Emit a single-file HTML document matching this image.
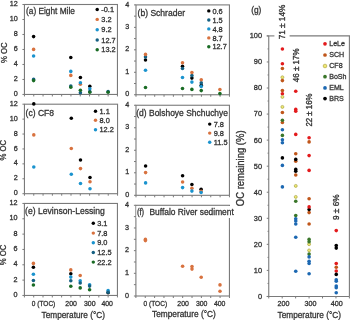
<!DOCTYPE html>
<html><head><meta charset="utf-8"><style>
html,body{margin:0;padding:0;background:#fff;width:350px;height:320px;overflow:hidden}
svg{display:block;font-family:"Liberation Sans",sans-serif;will-change:transform}
</style></head><body>
<svg width="350" height="320" viewBox="0 0 350 320">
<rect width="350" height="320" fill="#fff"/>
<rect x="24.45" y="4.5" width="93.00" height="89.95" fill="none" stroke="#7a7a7a" stroke-width="1.1"/>
<line x1="22.45" y1="94.45" x2="24.45" y2="94.45" stroke="#7a7a7a" stroke-width="1"/>
<line x1="22.45" y1="79.45833333333334" x2="24.45" y2="79.45833333333334" stroke="#7a7a7a" stroke-width="1"/>
<line x1="22.45" y1="64.46666666666667" x2="24.45" y2="64.46666666666667" stroke="#7a7a7a" stroke-width="1"/>
<line x1="22.45" y1="49.475" x2="24.45" y2="49.475" stroke="#7a7a7a" stroke-width="1"/>
<line x1="22.45" y1="34.483333333333334" x2="24.45" y2="34.483333333333334" stroke="#7a7a7a" stroke-width="1"/>
<line x1="22.45" y1="19.491666666666674" x2="24.45" y2="19.491666666666674" stroke="#7a7a7a" stroke-width="1"/>
<line x1="22.45" y1="4.5" x2="24.45" y2="4.5" stroke="#7a7a7a" stroke-width="1"/>
<text x="17.65" y="96.05" font-size="7.2" text-anchor="end" fill="#333333" stroke="#333333" stroke-width="0.3">0</text>
<text x="17.65" y="81.05833333333334" font-size="7.2" text-anchor="end" fill="#333333" stroke="#333333" stroke-width="0.3">2</text>
<text x="17.65" y="66.06666666666666" font-size="7.2" text-anchor="end" fill="#333333" stroke="#333333" stroke-width="0.3">4</text>
<text x="17.65" y="51.075" font-size="7.2" text-anchor="end" fill="#333333" stroke="#333333" stroke-width="0.3">6</text>
<text x="17.65" y="36.083333333333336" font-size="7.2" text-anchor="end" fill="#333333" stroke="#333333" stroke-width="0.3">8</text>
<text x="17.65" y="21.091666666666676" font-size="7.2" text-anchor="end" fill="#333333" stroke="#333333" stroke-width="0.3">10</text>
<text x="17.65" y="6.1" font-size="7.2" text-anchor="end" fill="#333333" stroke="#333333" stroke-width="0.3">12</text>
<line x1="24.45" y1="94.45" x2="24.45" y2="96.45" stroke="#7a7a7a" stroke-width="1"/>
<line x1="33.75" y1="94.45" x2="33.75" y2="96.45" stroke="#7a7a7a" stroke-width="1"/>
<line x1="43.05" y1="94.45" x2="43.05" y2="96.45" stroke="#7a7a7a" stroke-width="1"/>
<line x1="52.349999999999994" y1="94.45" x2="52.349999999999994" y2="96.45" stroke="#7a7a7a" stroke-width="1"/>
<line x1="61.650000000000006" y1="94.45" x2="61.650000000000006" y2="96.45" stroke="#7a7a7a" stroke-width="1"/>
<line x1="70.95" y1="94.45" x2="70.95" y2="96.45" stroke="#7a7a7a" stroke-width="1"/>
<line x1="80.25" y1="94.45" x2="80.25" y2="96.45" stroke="#7a7a7a" stroke-width="1"/>
<line x1="89.55" y1="94.45" x2="89.55" y2="96.45" stroke="#7a7a7a" stroke-width="1"/>
<line x1="98.85000000000001" y1="94.45" x2="98.85000000000001" y2="96.45" stroke="#7a7a7a" stroke-width="1"/>
<line x1="108.15" y1="94.45" x2="108.15" y2="96.45" stroke="#7a7a7a" stroke-width="1"/>
<line x1="117.45" y1="94.45" x2="117.45" y2="96.45" stroke="#7a7a7a" stroke-width="1"/>
<text x="26.0" y="13.7" font-size="8.4" text-anchor="start" fill="#333333" stroke="#333333" stroke-width="0.28" textLength="48.9" lengthAdjust="spacingAndGlyphs">(a) Eight Mile</text>
<circle cx="97.2" cy="9.45" r="1.72" fill="#000000"/>
<text x="101.3" y="12.049999999999999" font-size="7.4" text-anchor="start" fill="#333333" stroke="#333333" stroke-width="0.3">-0.1</text>
<circle cx="97.2" cy="19.4" r="1.72" fill="#D8723F"/>
<text x="101.3" y="22.0" font-size="7.4" text-anchor="start" fill="#333333" stroke="#333333" stroke-width="0.3">3.2</text>
<circle cx="97.2" cy="29.7" r="1.72" fill="#1A93CE"/>
<text x="101.3" y="32.3" font-size="7.4" text-anchor="start" fill="#333333" stroke="#333333" stroke-width="0.3">9.2</text>
<circle cx="97.2" cy="40" r="1.72" fill="#156082"/>
<text x="101.3" y="42.6" font-size="7.4" text-anchor="start" fill="#333333" stroke="#333333" stroke-width="0.3">12.7</text>
<circle cx="97.2" cy="49.8" r="1.72" fill="#196B24"/>
<text x="101.3" y="52.4" font-size="7.4" text-anchor="start" fill="#333333" stroke="#333333" stroke-width="0.3">13.2</text>
<circle cx="33.6" cy="36.6" r="1.78" fill="#000000"/>
<circle cx="33.6" cy="49.4" r="1.78" fill="#D8723F"/>
<circle cx="33.6" cy="56.0" r="1.78" fill="#1A93CE"/>
<circle cx="33.6" cy="79.4" r="1.78" fill="#156082"/>
<circle cx="33.6" cy="80.6" r="1.78" fill="#196B24"/>
<circle cx="70.8" cy="57.5" r="1.78" fill="#000000"/>
<circle cx="70.8" cy="71.4" r="1.78" fill="#1A93CE"/>
<circle cx="70.8" cy="75.4" r="1.78" fill="#D8723F"/>
<circle cx="70.8" cy="86.1" r="1.78" fill="#156082"/>
<circle cx="70.8" cy="87.2" r="1.78" fill="#196B24"/>
<circle cx="80.4" cy="77.5" r="1.78" fill="#000000"/>
<circle cx="80.4" cy="84.3" r="1.78" fill="#D8723F"/>
<circle cx="80.4" cy="82.7" r="1.78" fill="#1A93CE"/>
<circle cx="80.4" cy="92.7" r="1.78" fill="#156082"/>
<circle cx="80.4" cy="90.2" r="1.78" fill="#196B24"/>
<circle cx="89.8" cy="86.2" r="1.78" fill="#000000"/>
<circle cx="89.8" cy="88.7" r="1.78" fill="#1A93CE"/>
<circle cx="89.8" cy="91.5" r="1.78" fill="#156082"/>
<circle cx="89.8" cy="92.25" r="1.78" fill="#196B24"/>
<circle cx="108.1" cy="91.5" r="1.78" fill="#156082"/>
<circle cx="108.1" cy="92.25" r="1.78" fill="#196B24"/>
<rect x="136.0" y="4.9" width="93.44" height="89.85" fill="none" stroke="#7a7a7a" stroke-width="1.1"/>
<line x1="134.0" y1="94.75" x2="136.0" y2="94.75" stroke="#7a7a7a" stroke-width="1"/>
<line x1="134.0" y1="83.51875" x2="136.0" y2="83.51875" stroke="#7a7a7a" stroke-width="1"/>
<line x1="134.0" y1="72.2875" x2="136.0" y2="72.2875" stroke="#7a7a7a" stroke-width="1"/>
<line x1="134.0" y1="61.056250000000006" x2="136.0" y2="61.056250000000006" stroke="#7a7a7a" stroke-width="1"/>
<line x1="134.0" y1="49.825" x2="136.0" y2="49.825" stroke="#7a7a7a" stroke-width="1"/>
<line x1="134.0" y1="38.59375" x2="136.0" y2="38.59375" stroke="#7a7a7a" stroke-width="1"/>
<line x1="134.0" y1="27.36250000000001" x2="136.0" y2="27.36250000000001" stroke="#7a7a7a" stroke-width="1"/>
<line x1="134.0" y1="16.13125000000001" x2="136.0" y2="16.13125000000001" stroke="#7a7a7a" stroke-width="1"/>
<line x1="134.0" y1="4.900000000000006" x2="136.0" y2="4.900000000000006" stroke="#7a7a7a" stroke-width="1"/>
<text x="129.2" y="96.35" font-size="7.2" text-anchor="end" fill="#333333" stroke="#333333" stroke-width="0.3">0</text>
<text x="129.2" y="73.88749999999999" font-size="7.2" text-anchor="end" fill="#333333" stroke="#333333" stroke-width="0.3">1</text>
<text x="129.2" y="51.425000000000004" font-size="7.2" text-anchor="end" fill="#333333" stroke="#333333" stroke-width="0.3">2</text>
<text x="129.2" y="28.962500000000013" font-size="7.2" text-anchor="end" fill="#333333" stroke="#333333" stroke-width="0.3">3</text>
<text x="129.2" y="6.500000000000005" font-size="7.2" text-anchor="end" fill="#333333" stroke="#333333" stroke-width="0.3">4</text>
<line x1="136.0" y1="94.75" x2="136.0" y2="96.75" stroke="#7a7a7a" stroke-width="1"/>
<line x1="145.344" y1="94.75" x2="145.344" y2="96.75" stroke="#7a7a7a" stroke-width="1"/>
<line x1="154.688" y1="94.75" x2="154.688" y2="96.75" stroke="#7a7a7a" stroke-width="1"/>
<line x1="164.032" y1="94.75" x2="164.032" y2="96.75" stroke="#7a7a7a" stroke-width="1"/>
<line x1="173.376" y1="94.75" x2="173.376" y2="96.75" stroke="#7a7a7a" stroke-width="1"/>
<line x1="182.72" y1="94.75" x2="182.72" y2="96.75" stroke="#7a7a7a" stroke-width="1"/>
<line x1="192.064" y1="94.75" x2="192.064" y2="96.75" stroke="#7a7a7a" stroke-width="1"/>
<line x1="201.408" y1="94.75" x2="201.408" y2="96.75" stroke="#7a7a7a" stroke-width="1"/>
<line x1="210.752" y1="94.75" x2="210.752" y2="96.75" stroke="#7a7a7a" stroke-width="1"/>
<line x1="220.096" y1="94.75" x2="220.096" y2="96.75" stroke="#7a7a7a" stroke-width="1"/>
<line x1="229.44" y1="94.75" x2="229.44" y2="96.75" stroke="#7a7a7a" stroke-width="1"/>
<text x="137.6" y="15.8" font-size="8.4" text-anchor="start" fill="#333333" stroke="#333333" stroke-width="0.28" textLength="47.4" lengthAdjust="spacingAndGlyphs">(b) Schrader</text>
<circle cx="208.8" cy="10.9" r="1.72" fill="#000000"/>
<text x="212.4" y="13.5" font-size="7.4" text-anchor="start" fill="#333333" stroke="#333333" stroke-width="0.3">0.6</text>
<circle cx="208.8" cy="20.0" r="1.72" fill="#156082"/>
<text x="212.4" y="22.6" font-size="7.4" text-anchor="start" fill="#333333" stroke="#333333" stroke-width="0.3">1.5</text>
<circle cx="208.8" cy="28.9" r="1.72" fill="#1A93CE"/>
<text x="212.4" y="31.5" font-size="7.4" text-anchor="start" fill="#333333" stroke="#333333" stroke-width="0.3">4.8</text>
<circle cx="208.8" cy="37.9" r="1.72" fill="#D8723F"/>
<text x="212.4" y="40.5" font-size="7.4" text-anchor="start" fill="#333333" stroke="#333333" stroke-width="0.3">8.7</text>
<circle cx="208.8" cy="46.8" r="1.72" fill="#196B24"/>
<text x="212.4" y="49.4" font-size="7.4" text-anchor="start" fill="#333333" stroke="#333333" stroke-width="0.3">12.7</text>
<circle cx="145.5" cy="60.0" r="1.78" fill="#000000"/>
<circle cx="145.5" cy="56.9" r="1.78" fill="#156082"/>
<circle cx="145.5" cy="70.3" r="1.78" fill="#1A93CE"/>
<circle cx="145.5" cy="54.4" r="1.78" fill="#D8723F"/>
<circle cx="145.5" cy="87.5" r="1.78" fill="#196B24"/>
<circle cx="182.5" cy="66.25" r="1.78" fill="#000000"/>
<circle cx="182.5" cy="68.5" r="1.78" fill="#156082"/>
<circle cx="182.5" cy="77.5" r="1.78" fill="#1A93CE"/>
<circle cx="182.5" cy="62.75" r="1.78" fill="#D8723F"/>
<circle cx="182.5" cy="88.5" r="1.78" fill="#196B24"/>
<circle cx="191.9" cy="78.1" r="1.78" fill="#000000"/>
<circle cx="191.9" cy="75.6" r="1.78" fill="#156082"/>
<circle cx="191.9" cy="82.1" r="1.78" fill="#1A93CE"/>
<circle cx="191.9" cy="72.5" r="1.78" fill="#D8723F"/>
<circle cx="191.9" cy="89.4" r="1.78" fill="#196B24"/>
<circle cx="201.25" cy="85.2" r="1.78" fill="#000000"/>
<circle cx="201.25" cy="82.9" r="1.78" fill="#156082"/>
<circle cx="201.25" cy="86.5" r="1.78" fill="#1A93CE"/>
<circle cx="201.25" cy="79.8" r="1.78" fill="#D8723F"/>
<circle cx="201.25" cy="90.6" r="1.78" fill="#196B24"/>
<circle cx="219.9" cy="89.5" r="1.78" fill="#D8723F"/>
<circle cx="219.9" cy="93.6" r="1.78" fill="#196B24"/>
<rect x="24.45" y="104.2" width="93.10" height="89.50" fill="none" stroke="#7a7a7a" stroke-width="1.1"/>
<line x1="22.45" y1="193.7" x2="24.45" y2="193.7" stroke="#7a7a7a" stroke-width="1"/>
<line x1="22.45" y1="178.78333333333333" x2="24.45" y2="178.78333333333333" stroke="#7a7a7a" stroke-width="1"/>
<line x1="22.45" y1="163.86666666666667" x2="24.45" y2="163.86666666666667" stroke="#7a7a7a" stroke-width="1"/>
<line x1="22.45" y1="148.95" x2="24.45" y2="148.95" stroke="#7a7a7a" stroke-width="1"/>
<line x1="22.45" y1="134.03333333333333" x2="24.45" y2="134.03333333333333" stroke="#7a7a7a" stroke-width="1"/>
<line x1="22.45" y1="119.11666666666666" x2="24.45" y2="119.11666666666666" stroke="#7a7a7a" stroke-width="1"/>
<line x1="22.45" y1="104.2" x2="24.45" y2="104.2" stroke="#7a7a7a" stroke-width="1"/>
<text x="17.65" y="195.29999999999998" font-size="7.2" text-anchor="end" fill="#333333" stroke="#333333" stroke-width="0.3">0</text>
<text x="17.65" y="180.38333333333333" font-size="7.2" text-anchor="end" fill="#333333" stroke="#333333" stroke-width="0.3">2</text>
<text x="17.65" y="165.46666666666667" font-size="7.2" text-anchor="end" fill="#333333" stroke="#333333" stroke-width="0.3">4</text>
<text x="17.65" y="150.54999999999998" font-size="7.2" text-anchor="end" fill="#333333" stroke="#333333" stroke-width="0.3">6</text>
<text x="17.65" y="135.63333333333333" font-size="7.2" text-anchor="end" fill="#333333" stroke="#333333" stroke-width="0.3">8</text>
<text x="17.65" y="120.71666666666665" font-size="7.2" text-anchor="end" fill="#333333" stroke="#333333" stroke-width="0.3">10</text>
<text x="17.65" y="105.8" font-size="7.2" text-anchor="end" fill="#333333" stroke="#333333" stroke-width="0.3">12</text>
<line x1="24.45" y1="193.7" x2="24.45" y2="195.7" stroke="#7a7a7a" stroke-width="1"/>
<line x1="33.76" y1="193.7" x2="33.76" y2="195.7" stroke="#7a7a7a" stroke-width="1"/>
<line x1="43.06999999999999" y1="193.7" x2="43.06999999999999" y2="195.7" stroke="#7a7a7a" stroke-width="1"/>
<line x1="52.379999999999995" y1="193.7" x2="52.379999999999995" y2="195.7" stroke="#7a7a7a" stroke-width="1"/>
<line x1="61.69" y1="193.7" x2="61.69" y2="195.7" stroke="#7a7a7a" stroke-width="1"/>
<line x1="71.0" y1="193.7" x2="71.0" y2="195.7" stroke="#7a7a7a" stroke-width="1"/>
<line x1="80.30999999999999" y1="193.7" x2="80.30999999999999" y2="195.7" stroke="#7a7a7a" stroke-width="1"/>
<line x1="89.61999999999999" y1="193.7" x2="89.61999999999999" y2="195.7" stroke="#7a7a7a" stroke-width="1"/>
<line x1="98.92999999999999" y1="193.7" x2="98.92999999999999" y2="195.7" stroke="#7a7a7a" stroke-width="1"/>
<line x1="108.24" y1="193.7" x2="108.24" y2="195.7" stroke="#7a7a7a" stroke-width="1"/>
<line x1="117.55" y1="193.7" x2="117.55" y2="195.7" stroke="#7a7a7a" stroke-width="1"/>
<text x="25.6" y="116.0" font-size="8.4" text-anchor="start" fill="#333333" stroke="#333333" stroke-width="0.28" textLength="28.4" lengthAdjust="spacingAndGlyphs">(c) CF8</text>
<circle cx="95.5" cy="111.2" r="1.72" fill="#000000"/>
<text x="99.5" y="113.8" font-size="7.4" text-anchor="start" fill="#333333" stroke="#333333" stroke-width="0.3">1.1</text>
<circle cx="95.5" cy="120.2" r="1.72" fill="#D8723F"/>
<text x="99.5" y="122.8" font-size="7.4" text-anchor="start" fill="#333333" stroke="#333333" stroke-width="0.3">8.0</text>
<circle cx="95.5" cy="129.8" r="1.72" fill="#1A93CE"/>
<text x="99.5" y="132.4" font-size="7.4" text-anchor="start" fill="#333333" stroke="#333333" stroke-width="0.3">12.2</text>
<circle cx="33.8" cy="103.9" r="1.78" fill="#000000"/>
<circle cx="33.8" cy="134.9" r="1.78" fill="#D8723F"/>
<circle cx="33.8" cy="167.0" r="1.78" fill="#1A93CE"/>
<circle cx="71.3" cy="118.3" r="1.78" fill="#000000"/>
<circle cx="71.3" cy="148.5" r="1.78" fill="#D8723F"/>
<circle cx="71.3" cy="174.2" r="1.78" fill="#1A93CE"/>
<circle cx="80.5" cy="160.0" r="1.78" fill="#000000"/>
<circle cx="80.5" cy="168.6" r="1.78" fill="#D8723F"/>
<circle cx="80.5" cy="183.5" r="1.78" fill="#1A93CE"/>
<circle cx="90.0" cy="177.5" r="1.78" fill="#000000"/>
<circle cx="90.0" cy="181.8" r="1.78" fill="#D8723F"/>
<circle cx="90.0" cy="188.7" r="1.78" fill="#1A93CE"/>
<rect x="136.0" y="105.25" width="93.44" height="90.05" fill="none" stroke="#7a7a7a" stroke-width="1.1"/>
<line x1="134.0" y1="195.3" x2="136.0" y2="195.3" stroke="#7a7a7a" stroke-width="1"/>
<line x1="134.0" y1="184.04375000000002" x2="136.0" y2="184.04375000000002" stroke="#7a7a7a" stroke-width="1"/>
<line x1="134.0" y1="172.78750000000002" x2="136.0" y2="172.78750000000002" stroke="#7a7a7a" stroke-width="1"/>
<line x1="134.0" y1="161.53125" x2="136.0" y2="161.53125" stroke="#7a7a7a" stroke-width="1"/>
<line x1="134.0" y1="150.275" x2="136.0" y2="150.275" stroke="#7a7a7a" stroke-width="1"/>
<line x1="134.0" y1="139.01875" x2="136.0" y2="139.01875" stroke="#7a7a7a" stroke-width="1"/>
<line x1="134.0" y1="127.7625" x2="136.0" y2="127.7625" stroke="#7a7a7a" stroke-width="1"/>
<line x1="134.0" y1="116.50625" x2="136.0" y2="116.50625" stroke="#7a7a7a" stroke-width="1"/>
<line x1="134.0" y1="105.25" x2="136.0" y2="105.25" stroke="#7a7a7a" stroke-width="1"/>
<text x="129.2" y="196.9" font-size="7.2" text-anchor="end" fill="#333333" stroke="#333333" stroke-width="0.3">0</text>
<text x="129.2" y="174.38750000000002" font-size="7.2" text-anchor="end" fill="#333333" stroke="#333333" stroke-width="0.3">1</text>
<text x="129.2" y="151.875" font-size="7.2" text-anchor="end" fill="#333333" stroke="#333333" stroke-width="0.3">2</text>
<text x="129.2" y="129.3625" font-size="7.2" text-anchor="end" fill="#333333" stroke="#333333" stroke-width="0.3">3</text>
<text x="129.2" y="106.85" font-size="7.2" text-anchor="end" fill="#333333" stroke="#333333" stroke-width="0.3">4</text>
<line x1="136.0" y1="195.3" x2="136.0" y2="197.3" stroke="#7a7a7a" stroke-width="1"/>
<line x1="145.344" y1="195.3" x2="145.344" y2="197.3" stroke="#7a7a7a" stroke-width="1"/>
<line x1="154.688" y1="195.3" x2="154.688" y2="197.3" stroke="#7a7a7a" stroke-width="1"/>
<line x1="164.032" y1="195.3" x2="164.032" y2="197.3" stroke="#7a7a7a" stroke-width="1"/>
<line x1="173.376" y1="195.3" x2="173.376" y2="197.3" stroke="#7a7a7a" stroke-width="1"/>
<line x1="182.72" y1="195.3" x2="182.72" y2="197.3" stroke="#7a7a7a" stroke-width="1"/>
<line x1="192.064" y1="195.3" x2="192.064" y2="197.3" stroke="#7a7a7a" stroke-width="1"/>
<line x1="201.408" y1="195.3" x2="201.408" y2="197.3" stroke="#7a7a7a" stroke-width="1"/>
<line x1="210.752" y1="195.3" x2="210.752" y2="197.3" stroke="#7a7a7a" stroke-width="1"/>
<line x1="220.096" y1="195.3" x2="220.096" y2="197.3" stroke="#7a7a7a" stroke-width="1"/>
<line x1="229.44" y1="195.3" x2="229.44" y2="197.3" stroke="#7a7a7a" stroke-width="1"/>
<text x="136.3" y="115.9" font-size="8.4" text-anchor="start" fill="#333333" stroke="#333333" stroke-width="0.28" textLength="91.7" lengthAdjust="spacingAndGlyphs">(d) Bolshoye Shchuchye</text>
<circle cx="209.7" cy="124.1" r="1.72" fill="#000000"/>
<text x="213.7" y="126.69999999999999" font-size="7.4" text-anchor="start" fill="#333333" stroke="#333333" stroke-width="0.3">7.8</text>
<circle cx="209.7" cy="133.1" r="1.72" fill="#D8723F"/>
<text x="213.7" y="135.7" font-size="7.4" text-anchor="start" fill="#333333" stroke="#333333" stroke-width="0.3">9.8</text>
<circle cx="209.7" cy="142.2" r="1.72" fill="#1A93CE"/>
<text x="213.7" y="144.79999999999998" font-size="7.4" text-anchor="start" fill="#333333" stroke="#333333" stroke-width="0.3">11.5</text>
<circle cx="145.6" cy="166.0" r="1.78" fill="#000000"/>
<circle cx="145.6" cy="172.6" r="1.78" fill="#D8723F"/>
<circle cx="145.6" cy="182.9" r="1.78" fill="#1A93CE"/>
<circle cx="182.6" cy="175.8" r="1.78" fill="#000000"/>
<circle cx="182.6" cy="182.0" r="1.78" fill="#D8723F"/>
<circle cx="182.6" cy="187.6" r="1.78" fill="#1A93CE"/>
<circle cx="191.9" cy="184.5" r="1.78" fill="#000000"/>
<circle cx="191.9" cy="188.3" r="1.78" fill="#D8723F"/>
<circle cx="191.9" cy="191.1" r="1.78" fill="#1A93CE"/>
<circle cx="201.1" cy="189.2" r="1.78" fill="#000000"/>
<circle cx="201.1" cy="191.4" r="1.78" fill="#D8723F"/>
<circle cx="201.1" cy="192.5" r="1.78" fill="#1A93CE"/>
<rect x="24.4" y="203.45" width="93.04" height="92.00" fill="none" stroke="#7a7a7a" stroke-width="1.1"/>
<line x1="22.4" y1="295.45" x2="24.4" y2="295.45" stroke="#7a7a7a" stroke-width="1"/>
<line x1="22.4" y1="280.1166666666667" x2="24.4" y2="280.1166666666667" stroke="#7a7a7a" stroke-width="1"/>
<line x1="22.4" y1="264.7833333333333" x2="24.4" y2="264.7833333333333" stroke="#7a7a7a" stroke-width="1"/>
<line x1="22.4" y1="249.45" x2="24.4" y2="249.45" stroke="#7a7a7a" stroke-width="1"/>
<line x1="22.4" y1="234.11666666666665" x2="24.4" y2="234.11666666666665" stroke="#7a7a7a" stroke-width="1"/>
<line x1="22.4" y1="218.7833333333333" x2="24.4" y2="218.7833333333333" stroke="#7a7a7a" stroke-width="1"/>
<line x1="22.4" y1="203.45" x2="24.4" y2="203.45" stroke="#7a7a7a" stroke-width="1"/>
<text x="17.599999999999998" y="297.05" font-size="7.2" text-anchor="end" fill="#333333" stroke="#333333" stroke-width="0.3">0</text>
<text x="17.599999999999998" y="281.7166666666667" font-size="7.2" text-anchor="end" fill="#333333" stroke="#333333" stroke-width="0.3">2</text>
<text x="17.599999999999998" y="266.3833333333333" font-size="7.2" text-anchor="end" fill="#333333" stroke="#333333" stroke-width="0.3">4</text>
<text x="17.599999999999998" y="251.04999999999998" font-size="7.2" text-anchor="end" fill="#333333" stroke="#333333" stroke-width="0.3">6</text>
<text x="17.599999999999998" y="235.71666666666664" font-size="7.2" text-anchor="end" fill="#333333" stroke="#333333" stroke-width="0.3">8</text>
<text x="17.599999999999998" y="220.3833333333333" font-size="7.2" text-anchor="end" fill="#333333" stroke="#333333" stroke-width="0.3">10</text>
<text x="17.599999999999998" y="205.04999999999998" font-size="7.2" text-anchor="end" fill="#333333" stroke="#333333" stroke-width="0.3">12</text>
<line x1="24.4" y1="295.45" x2="24.4" y2="297.45" stroke="#7a7a7a" stroke-width="1"/>
<line x1="33.70399999999999" y1="295.45" x2="33.70399999999999" y2="297.45" stroke="#7a7a7a" stroke-width="1"/>
<line x1="43.007999999999996" y1="295.45" x2="43.007999999999996" y2="297.45" stroke="#7a7a7a" stroke-width="1"/>
<line x1="52.312" y1="295.45" x2="52.312" y2="297.45" stroke="#7a7a7a" stroke-width="1"/>
<line x1="61.61599999999999" y1="295.45" x2="61.61599999999999" y2="297.45" stroke="#7a7a7a" stroke-width="1"/>
<line x1="70.91999999999999" y1="295.45" x2="70.91999999999999" y2="297.45" stroke="#7a7a7a" stroke-width="1"/>
<line x1="80.22399999999999" y1="295.45" x2="80.22399999999999" y2="297.45" stroke="#7a7a7a" stroke-width="1"/>
<line x1="89.52799999999999" y1="295.45" x2="89.52799999999999" y2="297.45" stroke="#7a7a7a" stroke-width="1"/>
<line x1="98.832" y1="295.45" x2="98.832" y2="297.45" stroke="#7a7a7a" stroke-width="1"/>
<line x1="108.136" y1="295.45" x2="108.136" y2="297.45" stroke="#7a7a7a" stroke-width="1"/>
<line x1="117.44" y1="295.45" x2="117.44" y2="297.45" stroke="#7a7a7a" stroke-width="1"/>
<text x="25.1" y="213.9" font-size="8.4" text-anchor="start" fill="#333333" stroke="#333333" stroke-width="0.28" textLength="79.7" lengthAdjust="spacingAndGlyphs">(e) Levinson-Lessing</text>
<circle cx="93.3" cy="223.3" r="1.72" fill="#000000"/>
<text x="97.2" y="225.9" font-size="7.4" text-anchor="start" fill="#333333" stroke="#333333" stroke-width="0.3">3.1</text>
<circle cx="93.3" cy="233.1" r="1.72" fill="#D8723F"/>
<text x="97.2" y="235.7" font-size="7.4" text-anchor="start" fill="#333333" stroke="#333333" stroke-width="0.3">7.8</text>
<circle cx="93.3" cy="242.7" r="1.72" fill="#1A93CE"/>
<text x="97.2" y="245.29999999999998" font-size="7.4" text-anchor="start" fill="#333333" stroke="#333333" stroke-width="0.3">9.0</text>
<circle cx="93.3" cy="252.5" r="1.72" fill="#156082"/>
<text x="97.2" y="255.1" font-size="7.4" text-anchor="start" fill="#333333" stroke="#333333" stroke-width="0.3">12.5</text>
<circle cx="93.3" cy="262.1" r="1.72" fill="#196B24"/>
<text x="97.2" y="264.70000000000005" font-size="7.4" text-anchor="start" fill="#333333" stroke="#333333" stroke-width="0.3">22.2</text>
<circle cx="33.4" cy="263.4" r="1.78" fill="#D8723F"/>
<circle cx="33.4" cy="267.25" r="1.78" fill="#000000"/>
<circle cx="33.4" cy="274.2" r="1.78" fill="#1A93CE"/>
<circle cx="33.4" cy="280.5" r="1.78" fill="#156082"/>
<circle cx="33.4" cy="285.0" r="1.78" fill="#196B24"/>
<circle cx="70.8" cy="269.9" r="1.78" fill="#D8723F"/>
<circle cx="70.8" cy="273.7" r="1.78" fill="#000000"/>
<circle cx="70.8" cy="277.1" r="1.78" fill="#1A93CE"/>
<circle cx="70.8" cy="280.8" r="1.78" fill="#156082"/>
<circle cx="70.8" cy="286.2" r="1.78" fill="#196B24"/>
<circle cx="80.2" cy="275.5" r="1.78" fill="#D8723F"/>
<circle cx="80.2" cy="280.8" r="1.78" fill="#1A93CE"/>
<circle cx="80.2" cy="283.0" r="1.78" fill="#156082"/>
<circle cx="80.2" cy="287.9" r="1.78" fill="#196B24"/>
<circle cx="89.6" cy="284.7" r="1.78" fill="#1A93CE"/>
<circle cx="89.6" cy="286.1" r="1.78" fill="#156082"/>
<circle cx="89.6" cy="289.8" r="1.78" fill="#196B24"/>
<circle cx="108.1" cy="292.8" r="1.78" fill="#000000"/>
<circle cx="108.1" cy="290.6" r="1.78" fill="#1A93CE"/>
<circle cx="108.1" cy="292.3" r="1.78" fill="#156082"/>
<rect x="135.9" y="205.3" width="93.54" height="90.70" fill="none" stroke="#7a7a7a" stroke-width="1.1"/>
<line x1="133.9" y1="296.0" x2="135.9" y2="296.0" stroke="#7a7a7a" stroke-width="1"/>
<line x1="133.9" y1="284.6625" x2="135.9" y2="284.6625" stroke="#7a7a7a" stroke-width="1"/>
<line x1="133.9" y1="273.325" x2="135.9" y2="273.325" stroke="#7a7a7a" stroke-width="1"/>
<line x1="133.9" y1="261.9875" x2="135.9" y2="261.9875" stroke="#7a7a7a" stroke-width="1"/>
<line x1="133.9" y1="250.65" x2="135.9" y2="250.65" stroke="#7a7a7a" stroke-width="1"/>
<line x1="133.9" y1="239.3125" x2="135.9" y2="239.3125" stroke="#7a7a7a" stroke-width="1"/>
<line x1="133.9" y1="227.97500000000002" x2="135.9" y2="227.97500000000002" stroke="#7a7a7a" stroke-width="1"/>
<line x1="133.9" y1="216.63750000000002" x2="135.9" y2="216.63750000000002" stroke="#7a7a7a" stroke-width="1"/>
<line x1="133.9" y1="205.3" x2="135.9" y2="205.3" stroke="#7a7a7a" stroke-width="1"/>
<text x="129.1" y="297.6" font-size="7.2" text-anchor="end" fill="#333333" stroke="#333333" stroke-width="0.3">0</text>
<text x="129.1" y="274.925" font-size="7.2" text-anchor="end" fill="#333333" stroke="#333333" stroke-width="0.3">1</text>
<text x="129.1" y="252.25" font-size="7.2" text-anchor="end" fill="#333333" stroke="#333333" stroke-width="0.3">2</text>
<text x="129.1" y="229.57500000000002" font-size="7.2" text-anchor="end" fill="#333333" stroke="#333333" stroke-width="0.3">3</text>
<text x="129.1" y="206.9" font-size="7.2" text-anchor="end" fill="#333333" stroke="#333333" stroke-width="0.3">4</text>
<line x1="135.9" y1="296.0" x2="135.9" y2="298.0" stroke="#7a7a7a" stroke-width="1"/>
<line x1="145.25400000000002" y1="296.0" x2="145.25400000000002" y2="298.0" stroke="#7a7a7a" stroke-width="1"/>
<line x1="154.608" y1="296.0" x2="154.608" y2="298.0" stroke="#7a7a7a" stroke-width="1"/>
<line x1="163.96200000000002" y1="296.0" x2="163.96200000000002" y2="298.0" stroke="#7a7a7a" stroke-width="1"/>
<line x1="173.316" y1="296.0" x2="173.316" y2="298.0" stroke="#7a7a7a" stroke-width="1"/>
<line x1="182.67000000000002" y1="296.0" x2="182.67000000000002" y2="298.0" stroke="#7a7a7a" stroke-width="1"/>
<line x1="192.024" y1="296.0" x2="192.024" y2="298.0" stroke="#7a7a7a" stroke-width="1"/>
<line x1="201.378" y1="296.0" x2="201.378" y2="298.0" stroke="#7a7a7a" stroke-width="1"/>
<line x1="210.732" y1="296.0" x2="210.732" y2="298.0" stroke="#7a7a7a" stroke-width="1"/>
<line x1="220.086" y1="296.0" x2="220.086" y2="298.0" stroke="#7a7a7a" stroke-width="1"/>
<line x1="229.44" y1="296.0" x2="229.44" y2="298.0" stroke="#7a7a7a" stroke-width="1"/>
<rect x="136.4" y="206" width="99" height="12" fill="#fff"/>
<text x="136.9" y="215.4" font-size="8.4" text-anchor="start" fill="#333333" stroke="#333333" stroke-width="0.28" textLength="7.3" lengthAdjust="spacingAndGlyphs">(f)</text>
<text x="149.5" y="215.4" font-size="8.4" text-anchor="start" fill="#333333" stroke="#333333" stroke-width="0.28" textLength="84.3" lengthAdjust="spacingAndGlyphs">Buffalo River sediment</text>
<circle cx="145.4" cy="239.4" r="1.78" fill="#D8723F"/>
<circle cx="145.4" cy="240.6" r="1.78" fill="#D8723F"/>
<circle cx="182.6" cy="266.3" r="1.78" fill="#D8723F"/>
<circle cx="192" cy="266.5" r="1.78" fill="#D8723F"/>
<circle cx="192" cy="269.1" r="1.78" fill="#D8723F"/>
<circle cx="201.2" cy="277.3" r="1.78" fill="#D8723F"/>
<circle cx="220" cy="284.9" r="1.78" fill="#D8723F"/>
<circle cx="220" cy="291.2" r="1.78" fill="#D8723F"/>
<text x="4.1000000000000005" y="52.8" font-size="8.8" text-anchor="middle" fill="#333333" stroke="#333333" stroke-width="0.3" textLength="20.6" lengthAdjust="spacingAndGlyphs" transform="rotate(-90 4.1000000000000005 52.8)" dominant-baseline="central">% OC</text>
<text x="3.4000000000000004" y="150.3" font-size="8.8" text-anchor="middle" fill="#333333" stroke="#333333" stroke-width="0.3" textLength="20.6" lengthAdjust="spacingAndGlyphs" transform="rotate(-90 3.4000000000000004 150.3)" dominant-baseline="central">% OC</text>
<text x="2.8000000000000003" y="255.0" font-size="8.8" text-anchor="middle" fill="#333333" stroke="#333333" stroke-width="0.3" textLength="20.6" lengthAdjust="spacingAndGlyphs" transform="rotate(-90 2.8000000000000003 255.0)" dominant-baseline="central">% OC</text>
<text x="31.799999999999997" y="305.8" font-size="7.3" text-anchor="start" fill="#333333" stroke="#333333" stroke-width="0.3" textLength="23.5" lengthAdjust="spacingAndGlyphs">0 (TOC)</text>
<text x="71.1" y="305.8" font-size="7.3" text-anchor="middle" fill="#333333" stroke="#333333" stroke-width="0.3" textLength="11.6" lengthAdjust="spacingAndGlyphs">200</text>
<text x="89.8" y="305.8" font-size="7.3" text-anchor="middle" fill="#333333" stroke="#333333" stroke-width="0.3" textLength="11.6" lengthAdjust="spacingAndGlyphs">300</text>
<text x="107.2" y="305.8" font-size="7.3" text-anchor="middle" fill="#333333" stroke="#333333" stroke-width="0.3" textLength="11.6" lengthAdjust="spacingAndGlyphs">400</text>
<text x="143.6" y="305.8" font-size="7.3" text-anchor="start" fill="#333333" stroke="#333333" stroke-width="0.3" textLength="23.5" lengthAdjust="spacingAndGlyphs">0 (TOC)</text>
<text x="183.1" y="305.8" font-size="7.3" text-anchor="middle" fill="#333333" stroke="#333333" stroke-width="0.3" textLength="11.6" lengthAdjust="spacingAndGlyphs">200</text>
<text x="201.7" y="305.8" font-size="7.3" text-anchor="middle" fill="#333333" stroke="#333333" stroke-width="0.3" textLength="11.6" lengthAdjust="spacingAndGlyphs">300</text>
<text x="219.7" y="305.8" font-size="7.3" text-anchor="middle" fill="#333333" stroke="#333333" stroke-width="0.3" textLength="11.6" lengthAdjust="spacingAndGlyphs">400</text>
<text x="73.3" y="317.6" font-size="9.0" text-anchor="middle" fill="#333333" stroke="#333333" stroke-width="0.3" textLength="63.4" lengthAdjust="spacingAndGlyphs">Temperature (°C)</text>
<text x="183.9" y="317.4" font-size="9.0" text-anchor="middle" fill="#333333" stroke="#333333" stroke-width="0.3" textLength="63.7" lengthAdjust="spacingAndGlyphs">Temperature (°C)</text>
<line x1="268.75" y1="296.45" x2="268.75" y2="35.9" stroke="#7a7a7a" stroke-width="1.1"/>
<line x1="266.75" y1="296.45" x2="349.4" y2="296.45" stroke="#7a7a7a" stroke-width="1.1"/>
<line x1="349.4" y1="296.45" x2="349.4" y2="35.9" stroke="#7a7a7a" stroke-width="1.1"/>
<line x1="266.75" y1="35.9" x2="274.4" y2="35.9" stroke="#7a7a7a" stroke-width="1.1"/>
<line x1="289.6" y1="35.9" x2="350" y2="35.9" stroke="#7a7a7a" stroke-width="1.1"/>
<line x1="266.75" y1="296.45" x2="268.75" y2="296.45" stroke="#7a7a7a" stroke-width="1"/>
<text x="262.0" y="298.84999999999997" font-size="7.4" text-anchor="end" fill="#333333" stroke="#333333" stroke-width="0.3">0</text>
<line x1="266.75" y1="270.395" x2="268.75" y2="270.395" stroke="#7a7a7a" stroke-width="1"/>
<text x="262.0" y="272.79499999999996" font-size="7.4" text-anchor="end" fill="#333333" stroke="#333333" stroke-width="0.3">10</text>
<line x1="266.75" y1="244.33999999999997" x2="268.75" y2="244.33999999999997" stroke="#7a7a7a" stroke-width="1"/>
<text x="262.0" y="246.73999999999998" font-size="7.4" text-anchor="end" fill="#333333" stroke="#333333" stroke-width="0.3">20</text>
<line x1="266.75" y1="218.28499999999997" x2="268.75" y2="218.28499999999997" stroke="#7a7a7a" stroke-width="1"/>
<text x="262.0" y="220.68499999999997" font-size="7.4" text-anchor="end" fill="#333333" stroke="#333333" stroke-width="0.3">30</text>
<line x1="266.75" y1="192.23" x2="268.75" y2="192.23" stroke="#7a7a7a" stroke-width="1"/>
<text x="262.0" y="194.63" font-size="7.4" text-anchor="end" fill="#333333" stroke="#333333" stroke-width="0.3">40</text>
<line x1="266.75" y1="166.17499999999998" x2="268.75" y2="166.17499999999998" stroke="#7a7a7a" stroke-width="1"/>
<text x="262.0" y="168.575" font-size="7.4" text-anchor="end" fill="#333333" stroke="#333333" stroke-width="0.3">50</text>
<line x1="266.75" y1="140.11999999999998" x2="268.75" y2="140.11999999999998" stroke="#7a7a7a" stroke-width="1"/>
<text x="262.0" y="142.51999999999998" font-size="7.4" text-anchor="end" fill="#333333" stroke="#333333" stroke-width="0.3">60</text>
<line x1="266.75" y1="114.06499999999997" x2="268.75" y2="114.06499999999997" stroke="#7a7a7a" stroke-width="1"/>
<text x="262.0" y="116.46499999999997" font-size="7.4" text-anchor="end" fill="#333333" stroke="#333333" stroke-width="0.3">70</text>
<line x1="266.75" y1="88.00999999999999" x2="268.75" y2="88.00999999999999" stroke="#7a7a7a" stroke-width="1"/>
<text x="262.0" y="90.41" font-size="7.4" text-anchor="end" fill="#333333" stroke="#333333" stroke-width="0.3">80</text>
<line x1="266.75" y1="61.954999999999956" x2="268.75" y2="61.954999999999956" stroke="#7a7a7a" stroke-width="1"/>
<text x="262.0" y="64.35499999999996" font-size="7.4" text-anchor="end" fill="#333333" stroke="#333333" stroke-width="0.3">90</text>
<line x1="266.75" y1="35.89999999999998" x2="268.75" y2="35.89999999999998" stroke="#7a7a7a" stroke-width="1"/>
<text x="262.0" y="38.299999999999976" font-size="7.4" text-anchor="end" fill="#333333" stroke="#333333" stroke-width="0.3">100</text>
<line x1="267.55" y1="283.4225" x2="268.75" y2="283.4225" stroke="#7a7a7a" stroke-width="1"/>
<line x1="267.55" y1="257.3675" x2="268.75" y2="257.3675" stroke="#7a7a7a" stroke-width="1"/>
<line x1="267.55" y1="231.3125" x2="268.75" y2="231.3125" stroke="#7a7a7a" stroke-width="1"/>
<line x1="267.55" y1="205.2575" x2="268.75" y2="205.2575" stroke="#7a7a7a" stroke-width="1"/>
<line x1="267.55" y1="179.2025" x2="268.75" y2="179.2025" stroke="#7a7a7a" stroke-width="1"/>
<line x1="267.55" y1="153.14749999999998" x2="268.75" y2="153.14749999999998" stroke="#7a7a7a" stroke-width="1"/>
<line x1="267.55" y1="127.09249999999997" x2="268.75" y2="127.09249999999997" stroke="#7a7a7a" stroke-width="1"/>
<line x1="267.55" y1="101.0375" x2="268.75" y2="101.0375" stroke="#7a7a7a" stroke-width="1"/>
<line x1="267.55" y1="74.98249999999996" x2="268.75" y2="74.98249999999996" stroke="#7a7a7a" stroke-width="1"/>
<line x1="267.55" y1="48.92750000000001" x2="268.75" y2="48.92750000000001" stroke="#7a7a7a" stroke-width="1"/>
<line x1="268.75" y1="296.45" x2="268.75" y2="298.45" stroke="#7a7a7a" stroke-width="1"/>
<line x1="282.19166666666666" y1="296.45" x2="282.19166666666666" y2="298.45" stroke="#7a7a7a" stroke-width="1"/>
<line x1="295.6333333333333" y1="296.45" x2="295.6333333333333" y2="298.45" stroke="#7a7a7a" stroke-width="1"/>
<line x1="309.075" y1="296.45" x2="309.075" y2="298.45" stroke="#7a7a7a" stroke-width="1"/>
<line x1="322.51666666666665" y1="296.45" x2="322.51666666666665" y2="298.45" stroke="#7a7a7a" stroke-width="1"/>
<line x1="335.9583333333333" y1="296.45" x2="335.9583333333333" y2="298.45" stroke="#7a7a7a" stroke-width="1"/>
<line x1="349.4" y1="296.45" x2="349.4" y2="298.45" stroke="#7a7a7a" stroke-width="1"/>
<text x="283.5" y="305.8" font-size="7.3" text-anchor="middle" fill="#333333" stroke="#333333" stroke-width="0.3" textLength="12.0" lengthAdjust="spacingAndGlyphs">200</text>
<text x="310.4" y="305.8" font-size="7.3" text-anchor="middle" fill="#333333" stroke="#333333" stroke-width="0.3" textLength="12.0" lengthAdjust="spacingAndGlyphs">300</text>
<text x="336.7" y="305.8" font-size="7.3" text-anchor="middle" fill="#333333" stroke="#333333" stroke-width="0.3" textLength="12.0" lengthAdjust="spacingAndGlyphs">400</text>
<text x="309.3" y="317.6" font-size="9.0" text-anchor="middle" fill="#333333" stroke="#333333" stroke-width="0.3" textLength="63.5" lengthAdjust="spacingAndGlyphs">Temperature (°C)</text>
<text x="240.7" y="168.3" font-size="10.0" text-anchor="middle" fill="#333333" stroke="#333333" stroke-width="0.3" textLength="75.7" lengthAdjust="spacingAndGlyphs" transform="rotate(-90 240.7 168.3)" dominant-baseline="central">OC remaining (%)</text>
<text x="251.2" y="13.4" font-size="8.6" text-anchor="start" fill="#333333" stroke="#333333" stroke-width="0.3" textLength="10.2" lengthAdjust="spacingAndGlyphs">(g)</text>
<text x="282.3" y="22.0" font-size="8.8" text-anchor="middle" fill="#333333" stroke="#333333" stroke-width="0.34" textLength="34.7" lengthAdjust="spacingAndGlyphs" transform="rotate(-90 282.3 22.0)" dominant-baseline="central">71 ± 14%</text>
<text x="296.4" y="65.3" font-size="9.2" text-anchor="middle" fill="#333333" stroke="#333333" stroke-width="0.34" textLength="33.7" lengthAdjust="spacingAndGlyphs" transform="rotate(-90 296.4 65.3)" dominant-baseline="central">46 ± 17%</text>
<text x="309.0" y="110.0" font-size="8.8" text-anchor="middle" fill="#333333" stroke="#333333" stroke-width="0.34" textLength="33.0" lengthAdjust="spacingAndGlyphs" transform="rotate(-90 309.0 110.0)" dominant-baseline="central">22 ± 16%</text>
<text x="336.3" y="207.2" font-size="8.8" text-anchor="middle" fill="#333333" stroke="#333333" stroke-width="0.34" textLength="25.6" lengthAdjust="spacingAndGlyphs" transform="rotate(-90 336.3 207.2)" dominant-baseline="central">9 ± 6%</text>
<circle cx="325.0" cy="43.8" r="1.85" fill="#E31A1C"/>
<text x="329.2" y="45.7" font-size="7.1" text-anchor="start" fill="#333333" stroke="#333333" stroke-width="0.28">LeLe</text>
<circle cx="325.0" cy="55.0" r="1.85" fill="#C0561A"/>
<text x="329.2" y="56.900000000000006" font-size="7.1" text-anchor="start" fill="#333333" stroke="#333333" stroke-width="0.28">SCH</text>
<circle cx="325.0" cy="66.0" r="1.85" fill="#EDE873" stroke="#A89A30" stroke-width="0.6"/>
<text x="329.2" y="67.9" font-size="7.1" text-anchor="start" fill="#333333" stroke="#333333" stroke-width="0.28">CF8</text>
<circle cx="325.0" cy="76.7" r="1.85" fill="#3A762A"/>
<text x="329.2" y="78.60000000000001" font-size="7.1" text-anchor="start" fill="#333333" stroke="#333333" stroke-width="0.28">BoSh</text>
<circle cx="325.0" cy="87.89999999999999" r="1.85" fill="#1C68B2"/>
<text x="329.2" y="89.8" font-size="7.1" text-anchor="start" fill="#333333" stroke="#333333" stroke-width="0.28">EML</text>
<circle cx="325.0" cy="98.6" r="1.85" fill="#000000"/>
<text x="329.2" y="100.5" font-size="7.1" text-anchor="start" fill="#333333" stroke="#333333" stroke-width="0.28">BRS</text>
<circle cx="282.4" cy="49" r="1.8" fill="#E31A1C"/>
<circle cx="282.4" cy="63.75" r="1.8" fill="#E31A1C"/>
<circle cx="282.4" cy="68.5" r="1.8" fill="#C0561A"/>
<circle cx="282.4" cy="77.25" r="1.5" fill="#EDE873" stroke="#A09A38" stroke-width="0.6"/>
<circle cx="282.4" cy="80.6" r="1.8" fill="#C0561A"/>
<circle cx="282.4" cy="90.6" r="1.8" fill="#C0561A"/>
<circle cx="282.4" cy="93.75" r="1.8" fill="#E31A1C"/>
<circle cx="282.4" cy="96.9" r="1.5" fill="#EDE873" stroke="#A09A38" stroke-width="0.6"/>
<circle cx="282.4" cy="106.9" r="1.5" fill="#EDE873" stroke="#A09A38" stroke-width="0.6"/>
<circle cx="282.4" cy="112.5" r="1.8" fill="#C0561A"/>
<circle cx="282.4" cy="122.5" r="1.8" fill="#C0561A"/>
<circle cx="282.4" cy="120.25" r="1.8" fill="#3A762A"/>
<circle cx="282.4" cy="129.75" r="1.8" fill="#1C68B2"/>
<circle cx="282.4" cy="135.4" r="1.8" fill="#3A762A"/>
<circle cx="282.4" cy="139.75" r="1.8" fill="#1C68B2"/>
<circle cx="282.4" cy="142.75" r="1.8" fill="#1C68B2"/>
<circle cx="282.4" cy="157.9" r="1.8" fill="#000000"/>
<circle cx="282.4" cy="165.4" r="1.8" fill="#1C68B2"/>
<circle cx="282.4" cy="186.9" r="1.8" fill="#1C68B2"/>
<circle cx="295.75" cy="91.25" r="1.8" fill="#E31A1C"/>
<circle cx="295.75" cy="109.4" r="1.8" fill="#E31A1C"/>
<circle cx="295.75" cy="111.25" r="1.8" fill="#E31A1C"/>
<circle cx="295.75" cy="134.4" r="1.8" fill="#E31A1C"/>
<circle cx="295.75" cy="153.75" r="1.8" fill="#C0561A"/>
<circle cx="295.75" cy="161.25" r="1.8" fill="#C0561A"/>
<circle cx="295.75" cy="159.4" r="1.8" fill="#000000"/>
<circle cx="295.75" cy="175" r="1.8" fill="#C0561A"/>
<circle cx="295.75" cy="169.4" r="1.8" fill="#000000"/>
<circle cx="295.75" cy="171.25" r="1.8" fill="#000000"/>
<circle cx="295.75" cy="185.9" r="1.5" fill="#EDE873" stroke="#A09A38" stroke-width="0.6"/>
<circle cx="295.75" cy="196.9" r="1.5" fill="#EDE873" stroke="#A09A38" stroke-width="0.6"/>
<circle cx="295.75" cy="201.25" r="1.8" fill="#3A762A"/>
<circle cx="295.75" cy="215.6" r="1.8" fill="#3A762A"/>
<circle cx="295.75" cy="218.75" r="1.8" fill="#1C68B2"/>
<circle cx="295.75" cy="221" r="1.8" fill="#1C68B2"/>
<circle cx="295.75" cy="224" r="1.8" fill="#1C68B2"/>
<circle cx="295.75" cy="237.25" r="1.8" fill="#1C68B2"/>
<circle cx="295.75" cy="271.25" r="1.8" fill="#1C68B2"/>
<circle cx="309.1" cy="137.75" r="1.8" fill="#E31A1C"/>
<circle cx="309.1" cy="141.9" r="1.8" fill="#C0561A"/>
<circle cx="309.1" cy="155.6" r="1.8" fill="#E31A1C"/>
<circle cx="309.1" cy="170.4" r="1.8" fill="#E31A1C"/>
<circle cx="309.1" cy="198.75" r="1.8" fill="#C0561A"/>
<circle cx="309.1" cy="212.6" r="1.8" fill="#C0561A"/>
<circle cx="309.1" cy="209.5" r="1.8" fill="#000000"/>
<circle cx="309.1" cy="206.9" r="1.8" fill="#E31A1C"/>
<circle cx="309.1" cy="224" r="1.8" fill="#C0561A"/>
<circle cx="309.1" cy="244.2" r="1.5" fill="#EDE873" stroke="#A09A38" stroke-width="0.6"/>
<circle cx="309.1" cy="239.4" r="1.8" fill="#3A762A"/>
<circle cx="309.1" cy="241.7" r="1.8" fill="#3A762A"/>
<circle cx="309.1" cy="250.4" r="1.5" fill="#EDE873" stroke="#A09A38" stroke-width="0.6"/>
<circle cx="309.1" cy="254.1" r="1.8" fill="#3A762A"/>
<circle cx="309.1" cy="256.9" r="1.8" fill="#1C68B2"/>
<circle cx="309.1" cy="261.25" r="1.8" fill="#1C68B2"/>
<circle cx="309.1" cy="263.5" r="1.8" fill="#1C68B2"/>
<circle cx="309.1" cy="273.75" r="1.8" fill="#1C68B2"/>
<circle cx="336.25" cy="230.6" r="1.8" fill="#E31A1C"/>
<circle cx="336.25" cy="245.6" r="1.8" fill="#000000"/>
<circle cx="336.25" cy="248.1" r="1.8" fill="#000000"/>
<circle cx="336.25" cy="267.25" r="1.8" fill="#C0561A"/>
<circle cx="336.25" cy="263.5" r="1.8" fill="#E31A1C"/>
<circle cx="336.25" cy="271" r="1.8" fill="#E31A1C"/>
<circle cx="336.25" cy="274.4" r="1.8" fill="#000000"/>
<circle cx="336.25" cy="279.75" r="1.8" fill="#1C68B2"/>
<circle cx="336.25" cy="281.25" r="1.8" fill="#1C68B2"/>
<circle cx="336.25" cy="286" r="1.8" fill="#1C68B2"/>
<circle cx="336.25" cy="287.75" r="1.8" fill="#1C68B2"/>
<circle cx="336.25" cy="292.75" r="1.8" fill="#1C68B2"/>
</svg></body></html>
